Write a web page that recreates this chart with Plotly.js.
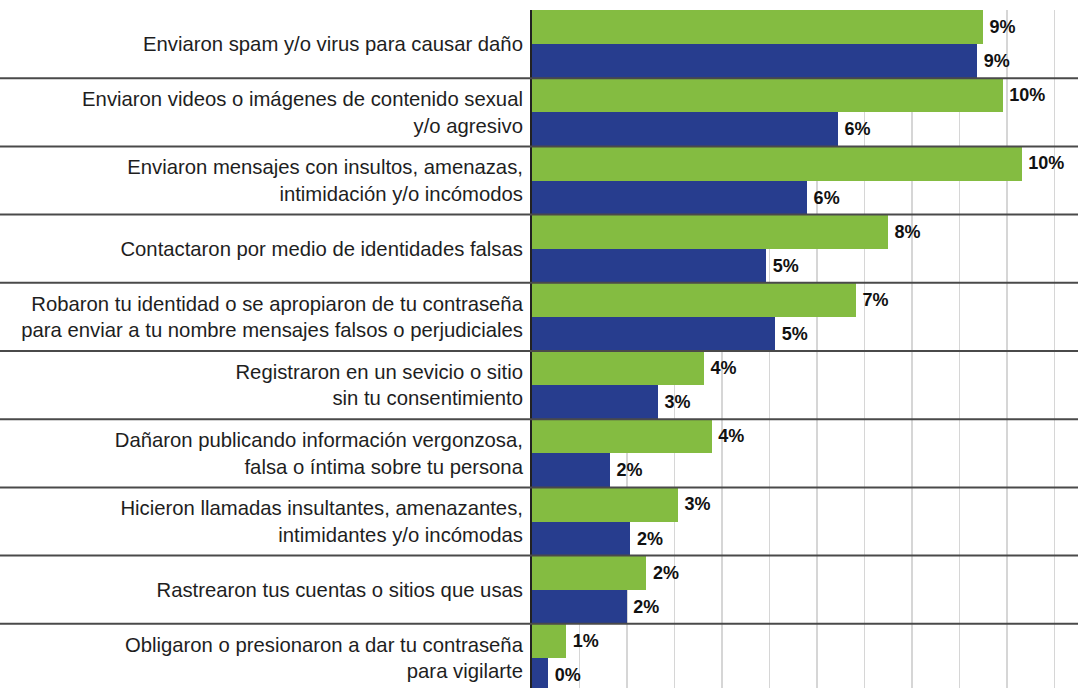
<!DOCTYPE html>
<html>
<head>
<meta charset="utf-8">
<script src="https://cdn.plot.ly/plotly-3.0.1.min.js"></script>
<style>html,body{margin:0;padding:0;background:#fff;}#chart{width:1078px;height:688px;}</style>
</head>
<body>
<div id="chart"></div>
<script>
const categories = [
  "Enviaron spam y/o virus para causar daño",
  "Enviaron videos o imágenes de contenido sexual<br>y/o agresivo",
  "Enviaron mensajes con insultos, amenazas,<br>intimidación y/o incómodos",
  "Contactaron por medio de identidades falsas",
  "Robaron tu identidad o se apropiaron de tu contraseña<br>para enviar a tu nombre mensajes falsos o perjudiciales",
  "Registraron en un sevicio o sitio<br>sin tu consentimiento",
  "Dañaron publicando información vergonzosa,<br>falsa o íntima sobre tu persona",
  "Hicieron llamadas insultantes, amenazantes,<br>intimidantes y/o incómodas",
  "Rastrearon tus cuentas o sitios que usas",
  "Obligaron o presionaron a dar tu contraseña<br>para vigilarte"
];
const greenValues = [9.49, 9.91, 10.31, 7.49, 6.82, 3.62, 3.78, 3.07, 2.41, 0.72];
const blueValues  = [9.37, 6.44, 5.79, 4.93, 5.12, 2.65, 1.64, 2.07, 1.99, 0.34];
const greenLabels = ["9%", "10%", "10%", "8%", "7%", "4%", "4%", "3%", "2%", "1%"];
const blueLabels  = ["9%", "6%", "6%", "5%", "5%", "3%", "2%", "2%", "2%", "0%"];

const labelFont = {family: "Liberation Sans, Arial, sans-serif", size: 18, color: "#111111", weight: "bold"};

const traces = [
  {type: "bar", orientation: "h", y: categories, x: greenValues, text: greenLabels,
   texttemplate: "\u2009%{text}", textposition: "outside", cliponaxis: false,
   textfont: labelFont, marker: {color: "#84bc41", line: {width: 0}}, hoverinfo: "skip", name: "A"},
  {type: "bar", orientation: "h", y: categories, x: blueValues, text: blueLabels,
   texttemplate: "\u2009%{text}", textposition: "outside", cliponaxis: false,
   textfont: labelFont, marker: {color: "#273d8e", line: {width: 0}}, hoverinfo: "skip", name: "B"}
];

const leftMargin = 532;
const plotW = 1078 - leftMargin;
const shapes = [];
for (let i = 0; i < categories.length - 1; i++) {
  shapes.push({type: "line", xref: "paper", yref: "y", x0: -leftMargin / plotW, x1: 1.05,
    y0: i + 0.5, y1: i + 0.5, line: {color: "#4a4a4a", width: 2}, layer: "above"});
}

const layout = {
  width: 1078, height: 688,
  margin: {l: leftMargin, r: 0, t: 10, b: 0, pad: 0},
  paper_bgcolor: "#ffffff", plot_bgcolor: "#ffffff",
  showlegend: false,
  barmode: "group", bargap: 0, bargroupgap: 0,
  xaxis: {range: [0, plotW / 47.5], dtick: 1, tick0: 0, showgrid: true, gridcolor: "#d6d6d6", gridwidth: 1.5,
          zeroline: false, showticklabels: false, showline: false, ticks: "", fixedrange: true},
  yaxis: {type: "category", range: [9.441, -0.5], autorange: false, showgrid: false, zeroline: false,
          showline: true, linecolor: "#222222", linewidth: 2, ticks: "", ticklabelstandoff: 3,
          tickfont: {family: "Liberation Sans, Arial, sans-serif", size: 20.3, color: "#1e1e1e"}, fixedrange: true},
  shapes: shapes
};

Plotly.newPlot("chart", traces, layout, {displayModeBar: false, staticPlot: true});
</script>
</body>
</html>
